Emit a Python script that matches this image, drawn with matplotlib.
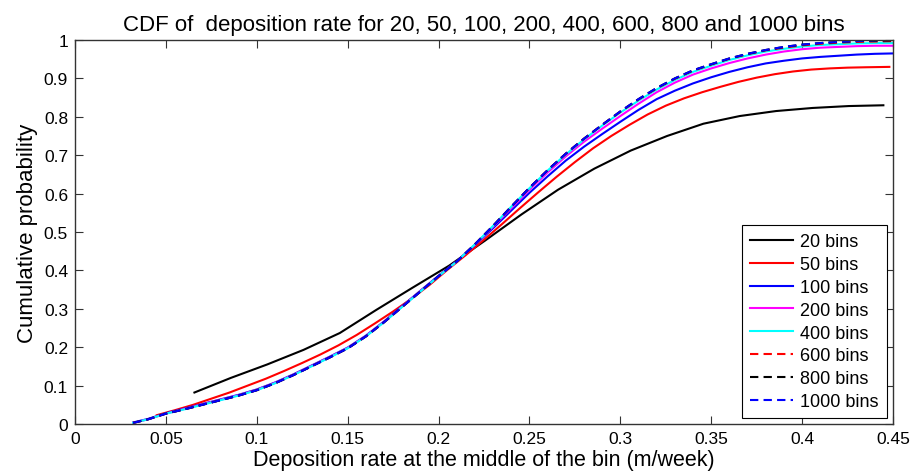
import matplotlib
matplotlib.use("Agg")
import matplotlib.pyplot as plt

plt.rcParams["font.family"] = ["Liberation Sans", "DejaVu Sans"]

# === Data ===
x_tick_vals = [0, 0.05, 0.1, 0.15, 0.2, 0.25, 0.3, 0.35, 0.4, 0.45]
x_tick_labels = ["0", "0.05", "0.1", "0.15", "0.2", "0.25", "0.3", "0.35", "0.4", "0.45"]
y_tick_vals = [0, 0.1, 0.2, 0.3, 0.4, 0.5, 0.6, 0.7, 0.8, 0.9, 1.0]
y_tick_labels = ["0", "0.1", "0.2", "0.3", "0.4", "0.5", "0.6", "0.7", "0.8", "0.9", "1"]

# 20 bins (bin midpoints)
x_20 = [0.0657, 0.0857, 0.1057, 0.1257, 0.1457, 0.1657, 0.1857, 0.2057, 0.2257, 0.2457,
        0.2657, 0.2857, 0.3057, 0.3257, 0.3457, 0.3657, 0.3857, 0.4057, 0.4257, 0.4447]
y_20 = [0.082, 0.120, 0.155, 0.193, 0.237, 0.297, 0.355, 0.412, 0.478, 0.546,
        0.610, 0.665, 0.712, 0.750, 0.782, 0.802, 0.815, 0.823, 0.828, 0.830]

# 50 bins
x_50 = [0.045, 0.055, 0.065, 0.075, 0.085, 0.095, 0.105, 0.115, 0.125, 0.135, 0.145,
        0.155, 0.165, 0.175, 0.185, 0.195, 0.205, 0.215, 0.225, 0.235, 0.245, 0.255,
        0.265, 0.275, 0.285, 0.295, 0.305, 0.315, 0.325, 0.335, 0.345, 0.355, 0.365,
        0.375, 0.385, 0.395, 0.405, 0.415, 0.425, 0.435, 0.448]
y_50 = [0.023, 0.036, 0.050, 0.066, 0.082, 0.100, 0.118, 0.138, 0.159, 0.181, 0.205,
        0.232, 0.262, 0.293, 0.326, 0.362, 0.402, 0.440, 0.480, 0.521, 0.563, 0.604,
        0.644, 0.682, 0.718, 0.750, 0.779, 0.806, 0.829, 0.848, 0.864, 0.878, 0.891,
        0.902, 0.911, 0.918, 0.923, 0.926, 0.928, 0.929, 0.930]

# finer binnings share these x positions
x_fine = [0.032, 0.04, 0.05, 0.06, 0.07, 0.08, 0.09, 0.10, 0.11, 0.12, 0.13, 0.14,
          0.15, 0.16, 0.17, 0.18, 0.19, 0.20, 0.21, 0.22, 0.23, 0.24, 0.25, 0.26,
          0.27, 0.28, 0.29, 0.30, 0.31, 0.32, 0.33, 0.34, 0.35, 0.36, 0.37, 0.38,
          0.39, 0.40, 0.41, 0.42, 0.43, 0.44, 0.4495]
y_100 = [0.004, 0.013, 0.028, 0.040, 0.052, 0.064, 0.076, 0.090, 0.108, 0.129, 0.152, 0.175,
         0.199, 0.230, 0.267, 0.307, 0.347, 0.386, 0.424, 0.466, 0.510, 0.556, 0.602, 0.645,
         0.686, 0.722, 0.755, 0.787, 0.818, 0.846, 0.868, 0.887, 0.903, 0.917, 0.929, 0.939,
         0.946, 0.952, 0.956, 0.959, 0.962, 0.964, 0.965]
y_200 = [0.003, 0.012, 0.027, 0.039, 0.051, 0.063, 0.075, 0.089, 0.107, 0.128, 0.151, 0.174,
         0.198, 0.229, 0.266, 0.306, 0.346, 0.385, 0.423, 0.467, 0.514, 0.562, 0.610, 0.655,
         0.697, 0.735, 0.769, 0.802, 0.834, 0.864, 0.889, 0.910, 0.926, 0.940, 0.952, 0.962,
         0.970, 0.976, 0.980, 0.982, 0.984, 0.985, 0.985]
y_400 = [0.003, 0.012, 0.027, 0.038, 0.050, 0.062, 0.074, 0.088, 0.106, 0.127, 0.150, 0.173,
         0.197, 0.228, 0.265, 0.305, 0.345, 0.385, 0.423, 0.468, 0.516, 0.566, 0.614, 0.660,
         0.702, 0.741, 0.777, 0.811, 0.842, 0.871, 0.896, 0.917, 0.933, 0.948, 0.960, 0.970,
         0.977, 0.983, 0.987, 0.989, 0.991, 0.992, 0.992]
y_600 = [0.003, 0.012, 0.027, 0.038, 0.050, 0.062, 0.074, 0.088, 0.106, 0.127, 0.150, 0.173,
         0.197, 0.228, 0.265, 0.305, 0.345, 0.385, 0.423, 0.468, 0.516, 0.566, 0.615, 0.661,
         0.704, 0.743, 0.779, 0.813, 0.845, 0.874, 0.899, 0.920, 0.936, 0.951, 0.963, 0.973,
         0.980, 0.986, 0.990, 0.993, 0.995, 0.996, 0.997]
y_800 = [0.003, 0.012, 0.027, 0.038, 0.050, 0.062, 0.074, 0.088, 0.106, 0.127, 0.150, 0.173,
         0.197, 0.228, 0.265, 0.305, 0.345, 0.385, 0.423, 0.468, 0.516, 0.566, 0.615, 0.661,
         0.704, 0.743, 0.779, 0.814, 0.846, 0.875, 0.900, 0.921, 0.937, 0.952, 0.964, 0.974,
         0.982, 0.988, 0.992, 0.995, 0.997, 0.998, 0.999]
y_1000 = [0.003, 0.012, 0.027, 0.038, 0.050, 0.062, 0.074, 0.088, 0.106, 0.127, 0.150, 0.173,
          0.197, 0.228, 0.265, 0.305, 0.345, 0.385, 0.423, 0.468, 0.516, 0.566, 0.615, 0.661,
          0.704, 0.743, 0.779, 0.814, 0.846, 0.875, 0.900, 0.921, 0.937, 0.952, 0.964, 0.974,
          0.982, 0.988, 0.992, 0.995, 0.997, 0.999, 1.000]

series = [
    ("20 bins", x_20, y_20, "black", "-"),
    ("50 bins", x_50, y_50, "red", "-"),
    ("100 bins", x_fine, y_100, "blue", "-"),
    ("200 bins", x_fine, y_200, "magenta", "-"),
    ("400 bins", x_fine, y_400, "cyan", "-"),
    ("600 bins", x_fine, y_600, "red", "--"),
    ("800 bins", x_fine, y_800, "black", "--"),
    ("1000 bins", x_fine, y_1000, "blue", "--"),
]

# === Plot ===
fig = plt.figure(figsize=(9.16, 4.77), dpi=100)
ax = fig.add_axes([75 / 916, 52 / 477, 818 / 916, 384 / 477])

for label, xs, ys, color, ls in series:
    ax.plot(xs, ys, color=color, linestyle=ls, linewidth=1.5, label=label,
            dashes=(4, 2.5) if ls == "--" else (None, None))

ax.set_xlim(0, 0.45)
ax.set_ylim(0, 1)
ax.set_xticks(x_tick_vals)
ax.set_xticklabels(x_tick_labels)
ax.set_yticks(y_tick_vals)
ax.set_yticklabels(y_tick_labels)
ax.tick_params(direction="in", top=True, right=True, length=6, width=0.8,
               labelsize=12.5, pad=5, colors="#333333", labelcolor="black")
for spine in ax.spines.values():
    spine.set_color("#333333")
    spine.set_linewidth(1.0)

ax.set_title("CDF of  deposition rate for 20, 50, 100, 200, 400, 600, 800 and 1000 bins",
             fontsize=16, pad=7)
ax.set_xlabel("Deposition rate at the middle of the bin (m/week)", fontsize=15.5, labelpad=2)
ax.set_ylabel("Cumulative probability", fontsize=16, labelpad=4)

leg = ax.legend(loc="lower right", fontsize=13, fancybox=False, framealpha=1,
                edgecolor="black", handlelength=2.4, handletextpad=0.4,
                labelspacing=0.32, borderpad=0.45, borderaxespad=0.33)
leg.get_frame().set_linewidth(0.8)

fig.savefig("out.png", dpi=100)
